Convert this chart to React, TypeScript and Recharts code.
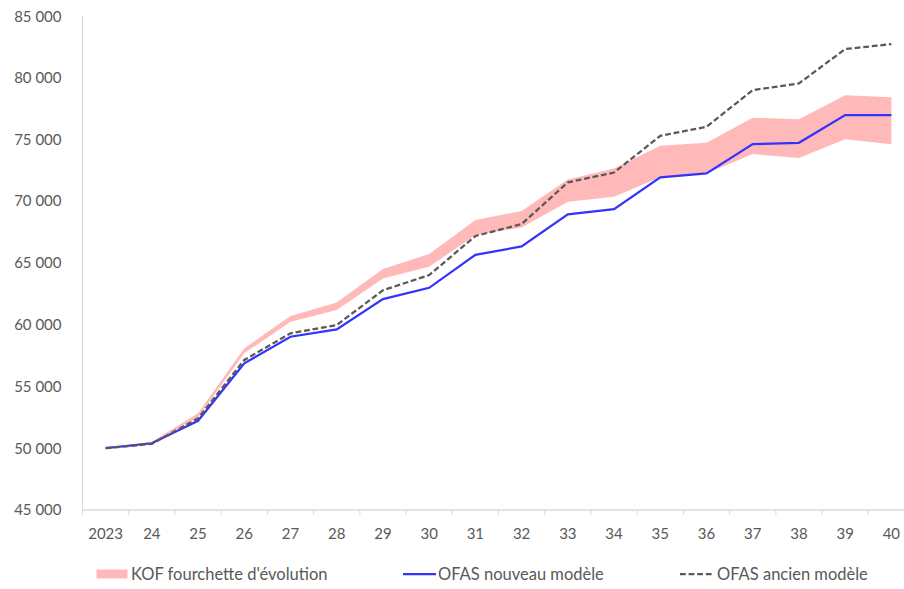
import React from 'react';
import { ComposedChart, Area, Line, XAxis, YAxis } from 'recharts';

const years = ['2023', '24', '25', '26', '27', '28', '29', '30', '31', '32', '33', '34', '35', '36', '37', '38', '39', '40'];
const kofLow = [50000, 50400, 52500, 57680, 60230, 61180, 63740, 64680, 67250, 67870, 69940, 70350, 71920, 72240, 73800, 73480, 75010, 74590];
const kofHigh = [50000, 50530, 52820, 58080, 60690, 61800, 64500, 65710, 68460, 69190, 71750, 72640, 74470, 74715, 76740, 76630, 78570, 78410];
const ofasNew = [50000, 50400, 52220, 56870, 59020, 59620, 62070, 62980, 65650, 66330, 68920, 69350, 71920, 72240, 74610, 74715, 76960, 76960];
const ofasOld = [50000, 50350, 52420, 57140, 59300, 59970, 62780, 64010, 67170, 68140, 71510, 72310, 75280, 76010, 78980, 79520, 82300, 82700];
const yTicks = [45000, 50000, 55000, 60000, 65000, 70000, 75000, 80000, 85000];
const legendLabels = ["KOF fourchette d'évolution", 'OFAS nouveau modèle', 'OFAS ancien modèle'];

const data = years.map((y, i) => ({
  year: y,
  kof: [kofLow[i], kofHigh[i]],
  ofasNew: ofasNew[i],
  ofasOld: ofasOld[i],
}));

const FONT = 'Lato, "Open Sans", sans-serif';
const TEXT = '#595959';
const AXIS = '#d9d9d9';
const PINK = '#ffb9b9';
const BLUE = '#3333ff';
const DASH = '#595959';

const fmt = (v: number) => String(v).replace(/\B(?=(\d{3})+(?!\d))/g, ' ');

const XTick = (props: any) => {
  const { x, y, payload } = props;
  const off = payload && payload.offset != null ? payload.offset : 23.1;
  return (
    <g>
      <line x1={x - off} x2={x - off} y1={y} y2={y + 5} stroke={AXIS} strokeWidth={1} />
      <text x={x} y={y + 23} textAnchor="middle" dominantBaseline="central" fill={TEXT} fontSize={15} fontFamily={FONT}>
        {payload.value}
      </text>
    </g>
  );
};

const LegendItem = ({ left, kind, label, gap }: { left: number; kind: string; label: string; gap: number }) => (
  <div style={{ position: 'absolute', left, top: 563, display: 'flex', alignItems: 'center', height: 22, fontFamily: FONT, fontSize: 16.5, lineHeight: '20px', color: TEXT, whiteSpace: 'nowrap' }}>
    <svg width={33} height={12} style={{ marginRight: gap, flex: 'none' }}>
      {kind === 'area' && <rect x={0.5} y={1.5} width={31} height={9} fill={PINK} />}
      {kind === 'line' && <line x1={0} x2={33} y1={6} y2={6} stroke={BLUE} strokeWidth={2.25} />}
      {kind === 'dash' && <line x1={0} x2={33} y1={6} y2={6} stroke={DASH} strokeWidth={2.25} strokeDasharray="5.8 2.8" />}
    </svg>
    <span>{label}</span>
  </div>
);

export default function App() {
  return (
    <div style={{ position: 'fixed', left: 0, top: 0, width: 904, height: 589, overflow: 'hidden', background: '#fff' }}>
      <style>{'html,body{overflow:hidden;}'}</style>
      <div style={{ position: 'absolute', left: 8, top: 8, width: 920, height: 573 }}>
        <ComposedChart width={920} height={573} data={data} margin={{ top: 7.7, right: 13.5, left: 0, bottom: 41 }}>
          <XAxis
            dataKey="year"
            scale="band"
            interval={0}
            height={30}
            axisLine={{ stroke: AXIS, strokeWidth: 1.5 }}
            tickLine={false}
            tickSize={0}
            tickMargin={0}
            tick={<XTick />}
          />
          <YAxis
            type="number"
            domain={[45000, 85000]}
            ticks={yTicks}
            width={74.5}
            axisLine={{ stroke: AXIS, strokeWidth: 1 }}
            tickLine={false}
            tickSize={0}
            tickMargin={21}
            tickFormatter={fmt}
            tick={{ fill: TEXT, fontSize: 15, fontFamily: FONT }}
            allowDataOverflow
          />
          <Area dataKey="kof" type="linear" stroke="none" fill={PINK} fillOpacity={1} isAnimationActive={false} dot={false} activeDot={false} />
          <Line dataKey="ofasNew" type="linear" stroke={BLUE} strokeWidth={2.25} dot={false} activeDot={false} isAnimationActive={false} />
          <Line dataKey="ofasOld" type="linear" stroke={DASH} strokeWidth={2.25} strokeDasharray="5.8 2.8" dot={false} activeDot={false} isAnimationActive={false} />
        </ComposedChart>
      </div>
      <LegendItem left={95.5} kind="area" label={legendLabels[0]} gap={2.5} />
      <LegendItem left={403} kind="line" label={legendLabels[1]} gap={2} />
      <LegendItem left={680} kind="dash" label={legendLabels[2]} gap={4} />
    </div>
  );
}
